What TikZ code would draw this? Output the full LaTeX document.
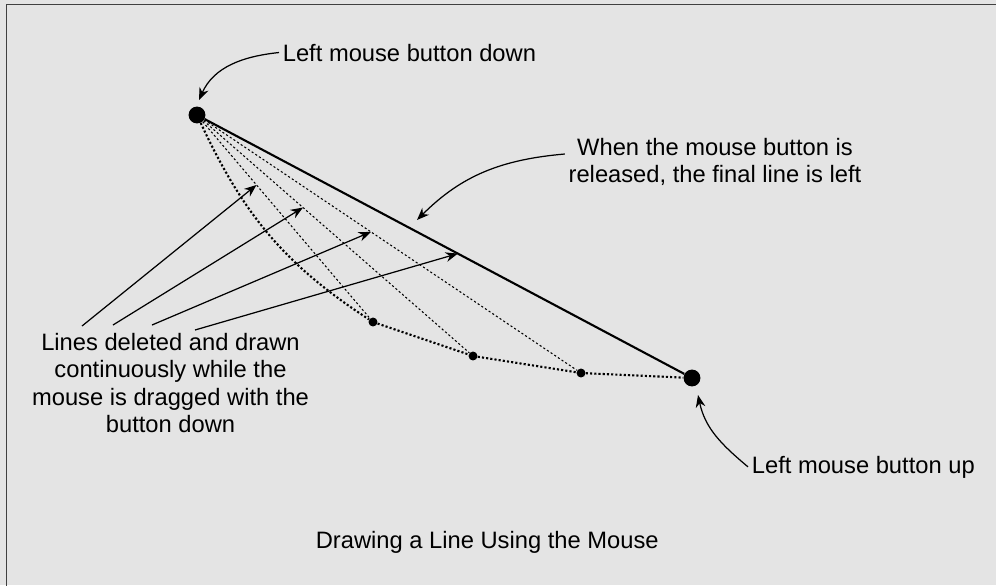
\documentclass[tikz,border=0pt]{standalone}
\usepackage{fontspec}
\setmainfont{Liberation Sans}
\usetikzlibrary{arrows.meta,calc}
\definecolor{panel}{HTML}{E4E4E4}
\definecolor{frame}{HTML}{404040}

\begin{document}
\begin{tikzpicture}[x=0.02cm,y=-0.02cm,
	label text/.style={font=\fontsize{13.5}{15.4}\selectfont, inner sep=2pt},
	final line/.style={line width=1.2pt},
	trial line/.style={line width=0.6pt, dash pattern=on 1.2pt off 1.3pt},
	drag path/.style={line width=1.2pt, dash pattern=on 1.2pt off 1.2pt},
	pointer/.style={line width=0.7pt, -{Stealth[length=7pt,width=5.5pt]}},
	end dot/.style={circle, fill=black, inner sep=0pt, minimum size=9.6pt},
	mid dot/.style={circle, fill=black, inner sep=0pt, minimum size=5.1pt}]
	
	% Panel
	\useasboundingbox (0,0) rectangle (996,585);
	\fill[panel] (0,0) rectangle (996,585);
	\draw[frame, line width=1.1pt] (1010,4.5) -- (6.5,4.5) -- (6.5,600);
	
	% Points of the drag
	\node[end dot] (press) at (197,115) {};
	\node[end dot] (release) at (692,378) {};
	\node[mid dot] (drag1) at (373,322) {};
	\node[mid dot] (drag2) at (473,356) {};
	\node[mid dot] (drag3) at (581,373) {};
	
	% Path of the mouse
	\draw[drag path] (press) to[out=-65,in=147] (drag1) -- (drag2) -- (drag3) -- (release);
	
	% Lines drawn while dragging
	\foreach \p in {drag1,drag2,drag3}
		\draw[trial line] (press) -- (\p);
	
	% Final line
	\draw[final line] (press) -- (release);
	
	% Labels
	\node[label text, anchor=base west] (downtext) at (279,61) {Left mouse button down};
	\node[label text, anchor=base west] (uptext) at (748,473) {Left mouse button up};
	\node[label text, align=center] (releasetext) at (715,161.5)
		{When the mouse button is\\released, the final line is left};
	\node[label text, align=center] (dragtext) at (170.5,383)
		{Lines deleted and drawn\\continuously while the\\mouse is dragged with the\\button down};
	\node[label text, anchor=base west] (caption) at (312,548) {Drawing a Line Using the Mouse};
	
	% Pointer ends
	\coordinate (downtip) at (199,100);
	\coordinate (uptip) at (698,395);
	\coordinate (finaltip) at (417,220);
	\coordinate (from1) at (82,326);
	\coordinate (from2) at (113,325);
	\coordinate (from3) at (152,325);
	\coordinate (from4) at (195,330);
	
	% Pointers
	\draw[pointer] (downtext.west) to[out=186,in=66] (downtip);
	\draw[pointer] (uptext.west) to[out=140,in=-78] (uptip);
	\draw[pointer] ([yshift=0.15cm]releasetext.west) to[out=185,in=45] (finaltip);
	\draw[pointer] (from1) -- ($(press)!0.338!(drag1)$);
	\draw[pointer] (from2) -- ($(press)!0.384!(drag2)$);
	\draw[pointer] (from3) -- ($(press)!0.453!(drag3)$);
	\draw[pointer] (from4) -- ($(press)!0.527!(release)$);
	
\end{tikzpicture}
\end{document}
